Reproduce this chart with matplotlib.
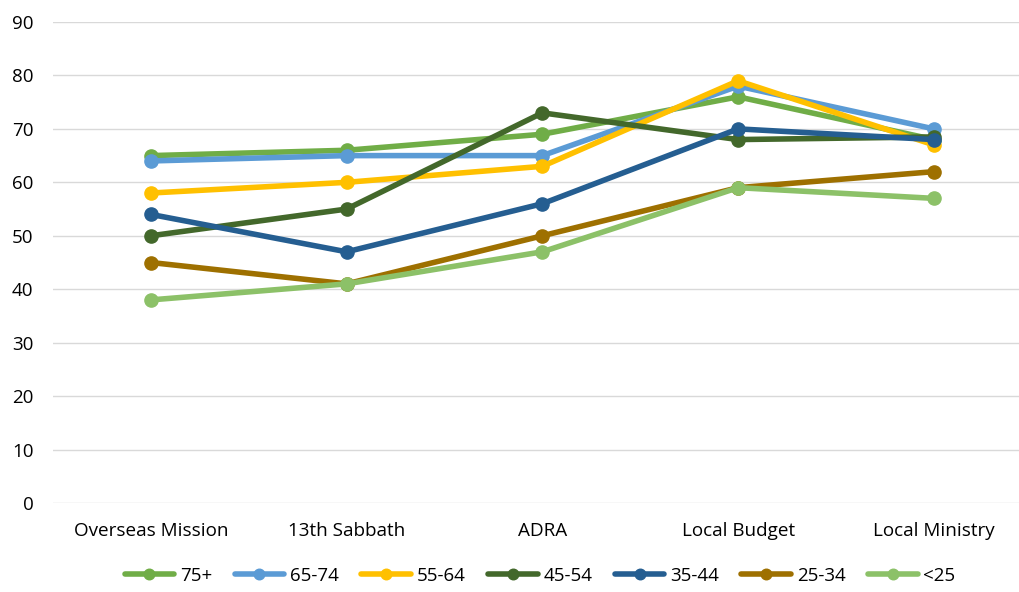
import matplotlib.pyplot as plt
import numpy as np

categories = ["Overseas Mission", "13th Sabbath", "ADRA", "Local Budget", "Local Ministry"]
groups = ["75+", "65-74", "55-64", "45-54", "35-44", "25-34", "<25"]
v_75 = [65, 66, 69, 76, 68]
v_65 = [64, 65, 65, 78, 70]
v_55 = [58, 60, 63, 79, 67]
v_45 = [50, 55, 73, 68, 68.5]
v_35 = [54, 47, 56, 70, 68]
v_25 = [45, 41, 50, 59, 62]
v_lt25 = [38, 41, 47, 59, 57]
series = [v_75, v_65, v_55, v_45, v_35, v_25, v_lt25]
colors = ["#70ad47", "#5b9bd5", "#ffc000", "#43682b", "#255e91", "#9e7000", "#8cc168"]

fig = plt.figure(figsize=(10.2, 5.92), dpi=100)
ax = fig.add_axes([53 / 1020, 1 - 503 / 592, 1 - 53 / 1020, (503 - 22) / 592])

x = np.arange(len(categories))
for name, vals, c in zip(groups, series, colors):
    ax.plot(x, vals, color=c, lw=4, marker="o", ms=9.5, label=name, solid_capstyle="round")

ax.set_ylim(0, 90)
ax.set_yticks(range(0, 91, 10))
ax.set_xlim(-0.5, 4.44)
ax.set_xticks(x)
ax.set_xticklabels(categories, fontsize=13.6, family="Open Sans")
ax.tick_params(axis="y", labelsize=13.5, length=0, pad=14)
ax.tick_params(axis="x", length=0, pad=14)
for lbl in ax.get_yticklabels():
    lbl.set_family("Open Sans")
ax.grid(axis="y", color="#d9d9d9", lw=1)
ax.set_axisbelow(True)
for s in ax.spines.values():
    s.set_visible(False)

ax.legend(loc="center", bbox_to_anchor=(540 / 1020, 1 - 576 / 592), bbox_transform=fig.transFigure,
          ncol=7, frameon=False, handlelength=2.65, columnspacing=1.2,
          handletextpad=0.3, markerscale=0.8, prop={"family": "Open Sans", "size": 13.5})

fig.savefig("out.png", dpi=100)
